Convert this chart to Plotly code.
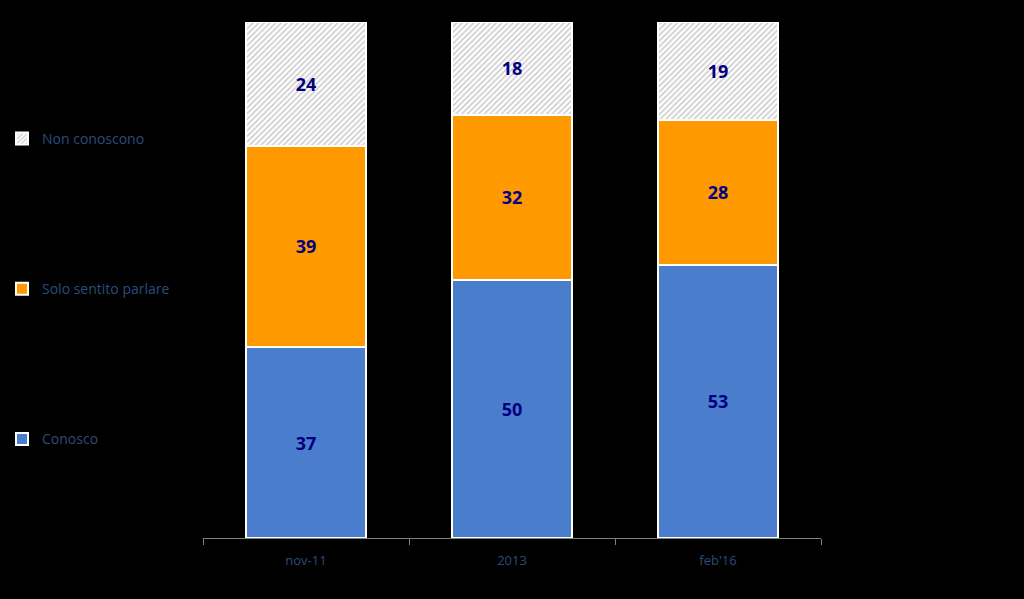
import plotly.graph_objects as go

categories = ["nov-11", "2013", "feb'16"]
conosco = [37, 50, 53]
solo_sentito = [39, 32, 28]
non_conoscono = [24, 18, 19]

label_font = dict(family="Open Sans", size=18, color="#000080")

fig = go.Figure()
fig.add_trace(go.Bar(
    x=categories, y=conosco, name="Conosco", legendgroup="a", legendrank=3,
    marker=dict(color="#4A7DCB", line=dict(color="white", width=2)),
    text=conosco, textposition="inside", insidetextanchor="middle",
    textfont=label_font,
    texttemplate="<b>%{text}</b>",
))
fig.add_trace(go.Bar(
    x=categories, y=solo_sentito, name="Solo sentito parlare", legendgroup="b", legendrank=2,
    marker=dict(color="#FF9900", line=dict(color="white", width=2)),
    text=solo_sentito, textposition="inside", insidetextanchor="middle",
    textfont=label_font,
    texttemplate="<b>%{text}</b>",
))
fig.add_trace(go.Bar(
    x=categories, y=non_conoscono, name="Non conoscono", legendgroup="c", legendrank=1,
    marker=dict(color="white", line=dict(color="white", width=2),
                pattern=dict(shape="/", bgcolor="white", fgcolor="#999999",
                             size=4, solidity=0.4)),
    text=non_conoscono, textposition="inside", insidetextanchor="middle",
    textfont=label_font,
    texttemplate="<b>%{text}</b>",
))

fig.update_layout(
    barmode="stack",
    bargap=0.42,
    width=1024, height=599,
    paper_bgcolor="black", plot_bgcolor="black",
    margin=dict(l=203, r=203, t=22, b=61),
    showlegend=True,
    legend=dict(
        xref="container", yref="container",
        x=2 / 1024, y=1 - 123 / 599, xanchor="left", yanchor="top",
        traceorder="grouped", tracegroupgap=129,
        font=dict(family="Open Sans", size=14, color="#2B4C7E"),
        bgcolor="rgba(0,0,0,0)",
        itemwidth=30,
        maxheight=599,
    ),
    xaxis=dict(
        showgrid=False, showline=True, linecolor="#808080", linewidth=1,
        ticks="outside", tickson="boundaries", ticklen=6, tickcolor="#808080",
        ticklabelstandoff=10,
        tickfont=dict(family="Open Sans", size=13, color="#2B4C7E"),
    ),
    yaxis=dict(range=[0, 100], visible=False, showgrid=False),
    uniformtext=dict(mode="show", minsize=10),
)

fig.write_html(
    "out.html",
    config={"displayModeBar": False},
    post_script="document.body.style.margin='0';document.body.style.background='black';",
)
